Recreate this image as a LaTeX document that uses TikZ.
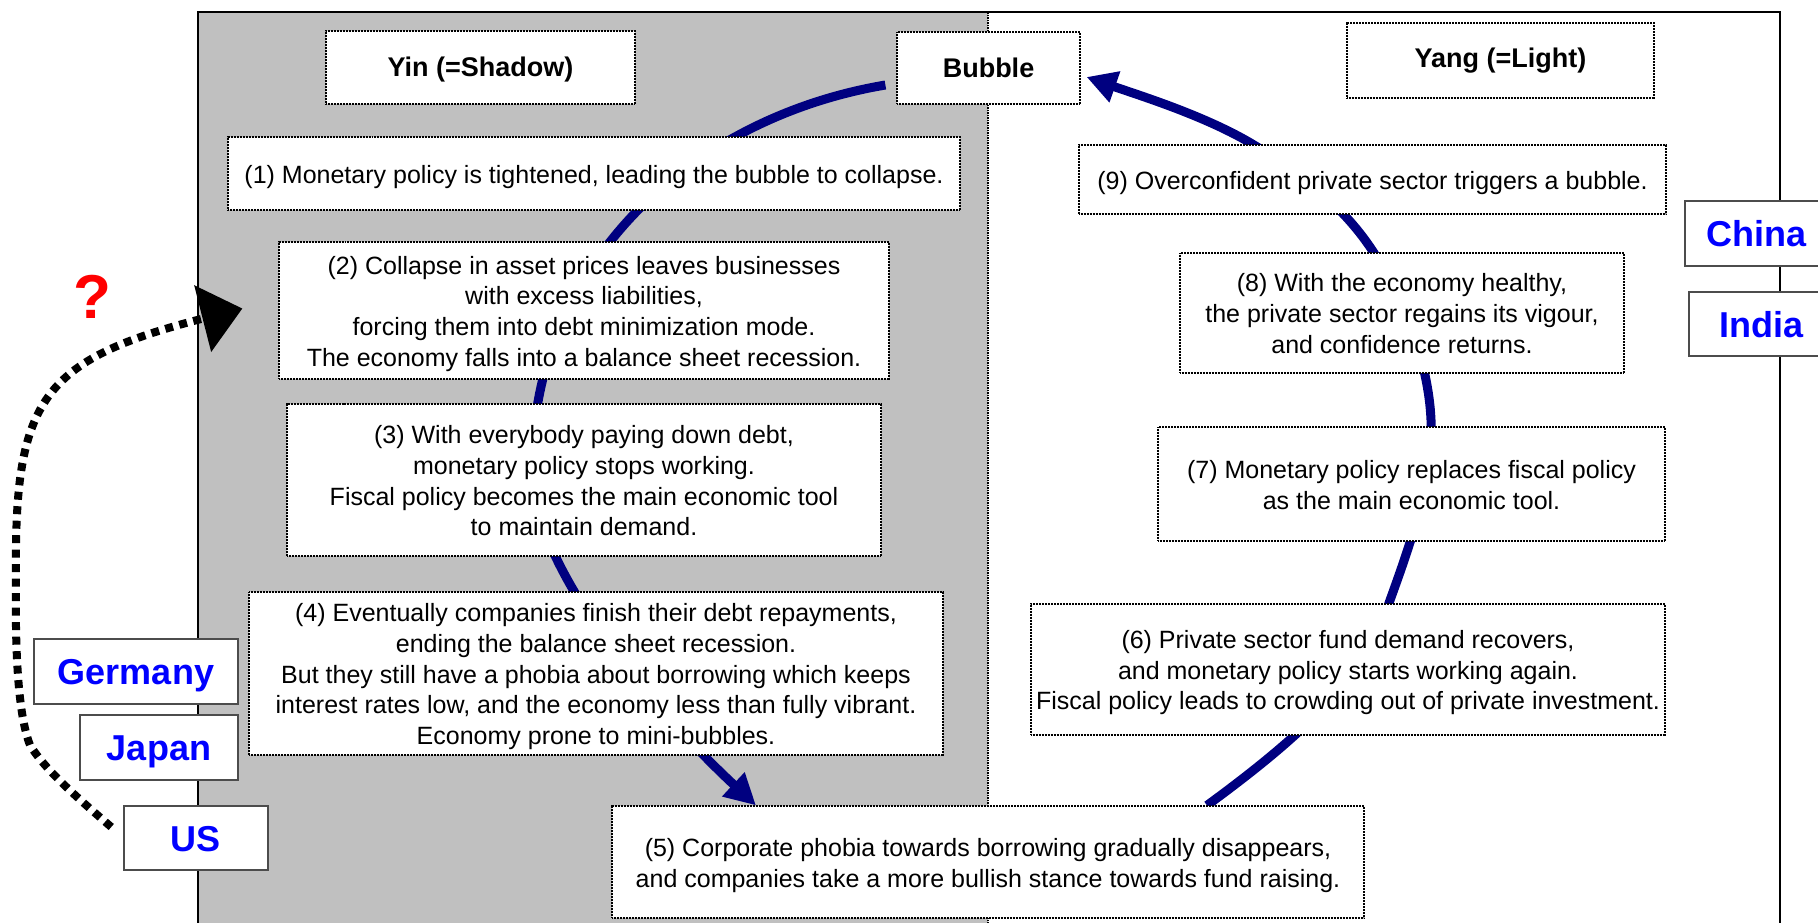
\documentclass[tikz,border=0pt]{standalone}
\usepackage{fontspec}
\setmainfont{Liberation Sans}
\usetikzlibrary{arrows.meta,calc}
\pgfdeclarelayer{bg}
\pgfdeclarelayer{arcs}
\pgfsetlayers{bg,arcs,main}
\definecolor{shadegray}{HTML}{C0C0C0}
\definecolor{navyc}{HTML}{000080}
\definecolor{cblue}{HTML}{0000FF}
\definecolor{qred}{HTML}{FF0000}
\newcommand{\boxtext}[1]{\raisebox{-3.5pt}[\height][\depth]{\begin{tabular}{@{}c@{}}#1\end{tabular}}}
\begin{document}
\begin{tikzpicture}[x=1pt,y=-1pt,
  stepbox/.style={draw=black, fill=white, line width=1.2pt, dash pattern=on 1pt off 0.5pt,
    align=center, inner sep=0pt, font=\fontsize{25}{30.7}\selectfont},
  headbox/.style={draw=black, fill=white, line width=1.2pt, dash pattern=on 1pt off 0.5pt,
    align=center, inner sep=0pt, font=\fontsize{27}{32}\selectfont\bfseries},
  country/.style={draw=black!70, fill=white, line width=1.5pt, inner sep=0pt,
    text height=26pt, text depth=0pt,
    text=cblue, font=\fontsize{36}{40}\selectfont\bfseries},
  loopline/.style={draw=navyc, line width=9pt},
  ]
\path[use as bounding box] (0,0) rectangle (1818,922);
\clip (0,0) rectangle (1818,922);

\begin{pgfonlayer}{bg}
\fill[shadegray] (198,12) rectangle (988,940);
\draw[line width=1.5pt] (198,940) -- (198,12) -- (1780,12) -- (1780,940);
\draw[line width=1.5pt, densely dotted] (988,12) -- (988,940);
\end{pgfonlayer}

% headers
\node[headbox, minimum width=309pt, minimum height=73pt] (yin) at (480.5,67.5) {\raisebox{-2.5pt}[\height][\depth]{Yin (=Shadow)}};
\node[headbox, minimum width=183pt, minimum height=72pt] (bubble) at (988.5,68) {Bubble};
\node[headbox, minimum width=307pt, minimum height=75pt] (yang) at (1500.5,60.5) {Yang (=Light)};

% steps
\node[stepbox, minimum width=732pt, minimum height=73pt] (s1) at (594,173.5)
  {\boxtext{(1) Monetary policy is tightened, leading the bubble to collapse.}};
\node[stepbox, minimum width=610pt, minimum height=137pt] (s2) at (584,310.5)
  {\boxtext{(2) Collapse in asset prices leaves businesses\\with excess liabilities,\\forcing them into debt minimization mode.\\The economy falls into a balance sheet recession.}};
\node[stepbox, minimum width=594pt, minimum height=152pt] (s3) at (584,480)
  {\boxtext{(3) With everybody paying down debt,\\monetary policy stops working.\\Fiscal policy becomes the main economic tool\\to maintain demand.}};
\node[stepbox, minimum width=694pt, minimum height=163pt] (s4) at (596,673.5)
  {\boxtext{(4) Eventually companies finish their debt repayments,\\ending the balance sheet recession.\\But they still have a phobia about borrowing which keeps\\interest rates low, and the economy less than fully vibrant.\\Economy prone to mini-bubbles.}};
\node[stepbox, minimum width=752pt, minimum height=112pt] (s5) at (988,862)
  {\boxtext{(5) Corporate phobia towards borrowing gradually disappears,\\and companies take a more bullish stance towards fund raising.}};
\node[stepbox, minimum width=634pt, minimum height=131pt] (s6) at (1348,669.5)
  {\boxtext{(6) Private sector fund demand recovers,\\and monetary policy starts working again.\\Fiscal policy leads to crowding out of private investment.}};
\node[stepbox, minimum width=507pt, minimum height=114pt] (s7) at (1411.5,484)
  {\boxtext{(7) Monetary policy replaces fiscal policy\\as the main economic tool.}};
\node[stepbox, minimum width=444pt, minimum height=120pt] (s8) at (1402,313)
  {\boxtext{(8) With the economy healthy,\\the private sector regains its vigour,\\and confidence returns.}};
\node[stepbox, minimum width=587pt, minimum height=69pt] (s9) at (1372.5,179.5)
  {\boxtext{(9) Overconfident private sector triggers a bubble.}};

% countries
\node[country, minimum width=204pt, minimum height=65pt] (germany) at (136,671.5) {Germany};
\node[country, minimum width=158pt, minimum height=65pt] (japan) at (159,747.5) {Japan};
\node[country, minimum width=144pt, minimum height=64pt] (us) at (196,838) {US};
\node[country, minimum width=142pt, minimum height=65pt] (china) at (1756,233.5) {China};
\node[country, minimum width=144pt, minimum height=64pt] (india) at (1761,324) {India};

\node[inner sep=0pt, text=qred, font=\fontsize{62}{62}\selectfont\bfseries] (q) at (92,297) {?};

% blue cycle
\begin{pgfonlayer}{arcs}
\draw[loopline, -{Triangle[length=31pt,width=31pt]}]
  ($(bubble.west)+(-11,17)$) .. controls (695,117) and (532,260) .. (532,470)
  .. controls (532,570) and (661,717) .. ($(s5.north)+(-232,0)$);
\draw[loopline, -{Triangle[length=30pt,width=31pt]}]
  ($(s5.north)+(219,0)$) .. controls (1310,730) and (1365,675) .. (1389,603)
  .. controls (1410,545) and (1434,478) .. (1431,420)
  .. controls (1428.5,362) and (1403.5,299) .. (1374,253)
  .. controls (1344.5,207) and (1302,174) .. (1254,145)
  .. controls (1206,116) and (1141,96) .. ($(bubble.east)+(6,9)$);
\end{pgfonlayer}

% dotted question arrow
\draw[line width=8pt, dash pattern=on 8pt off 6.5pt, -{Triangle[length=41pt,width=67pt]}]
  ($(us.west)+(-12,-11)$) .. controls (80,800) and (45,770) .. (30,745)
  .. controls (18,715) and (15,650) .. (16,580)
  .. controls (14,400) and (40,360) .. ($(s2.west)+(-36,-2)$);
\end{tikzpicture}
\end{document}
